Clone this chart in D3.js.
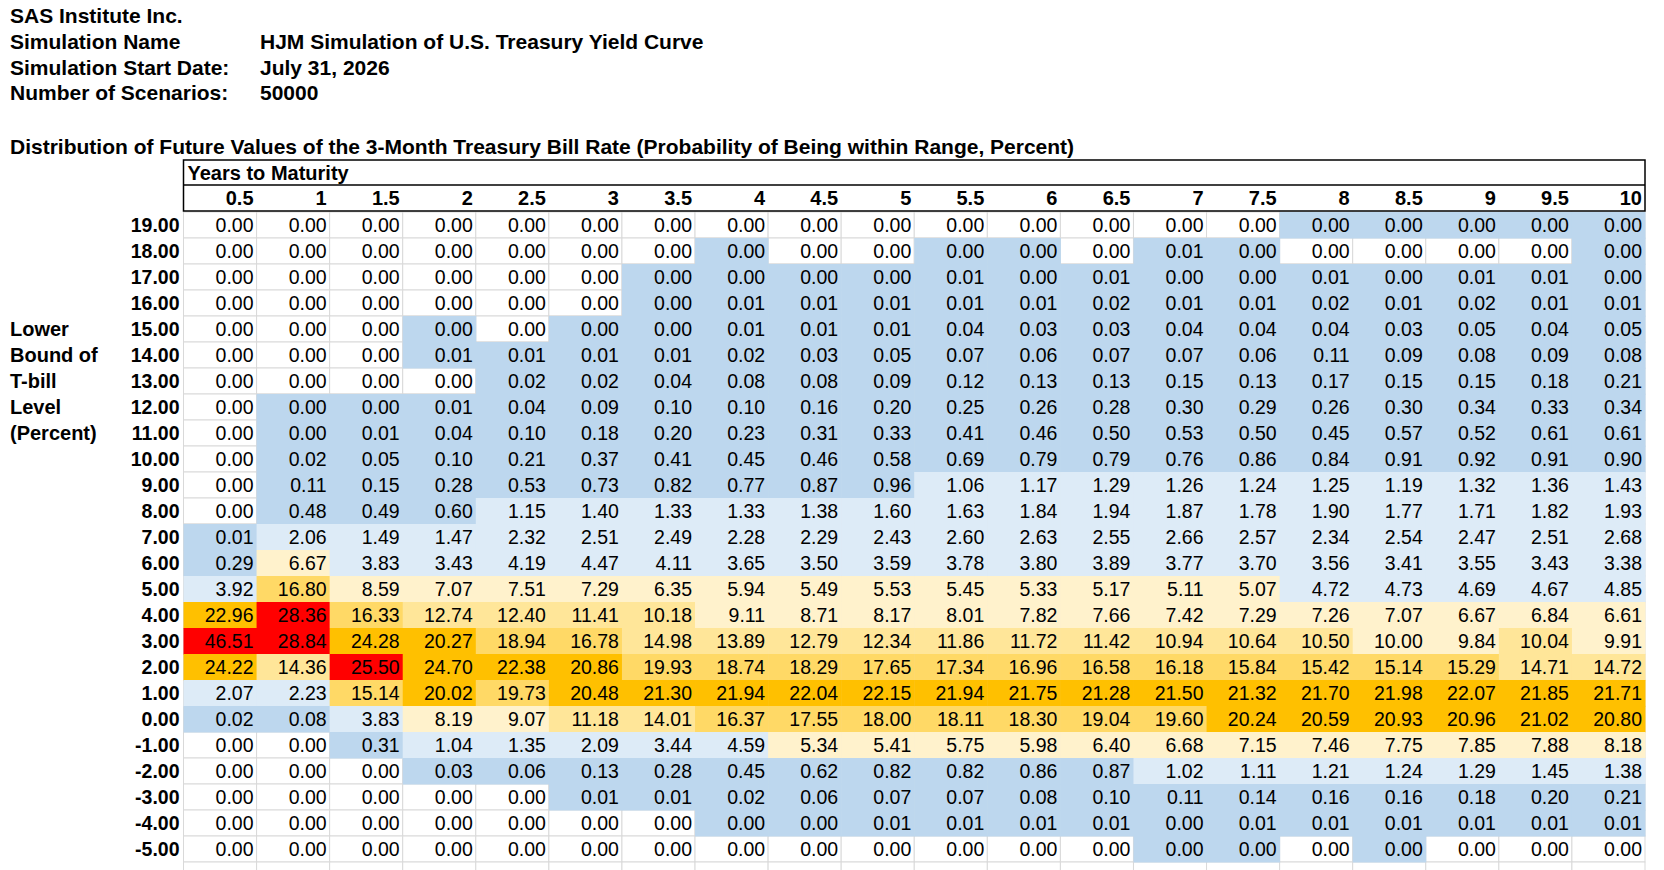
<!DOCTYPE html>
<html>
<head>
<meta charset="utf-8">
<script src="https://cdn.jsdelivr.net/npm/d3@7"></script>
<style>
  body { margin: 0; background: #fff; }
  text { font-family: "Liberation Sans", Arial, sans-serif; }
</style>
</head>
<body>
<script>
// info block
var infoLabels = ["Simulation Name", "Simulation Start Date:", "Number of Scenarios:"];
var infoValues = ["HJM Simulation of U.S. Treasury Yield Curve", "July 31, 2026", "50000"];

var maturities = ["0.5","1","1.5","2","2.5","3","3.5","4","4.5","5","5.5","6","6.5","7","7.5","8","8.5","9","9.5","10"];
var levels = ["19.00","18.00","17.00","16.00","15.00","14.00","13.00","12.00","11.00","10.00","9.00","8.00","7.00","6.00","5.00","4.00","3.00","2.00","1.00","0.00","-1.00","-2.00","-3.00","-4.00","-5.00"];
var sideLabel = ["Lower", "Bound of", "T-bill", "Level", "(Percent)"];

// probabilities (percent); 0.001 = nonzero but shows as 0.00
var probs = [
  [0,0,0,0,0,0,0,0,0,0,0,0,0,0,0,0.001,0.001,0.001,0.001,0.001],
  [0,0,0,0,0,0,0,0.001,0,0,0.001,0.001,0,0.01,0.001,0,0,0,0,0.001],
  [0,0,0,0,0,0,0.001,0.001,0.001,0.001,0.01,0.001,0.01,0.001,0.001,0.01,0.001,0.01,0.01,0.001],
  [0,0,0,0,0,0,0.001,0.01,0.01,0.01,0.01,0.01,0.02,0.01,0.01,0.02,0.01,0.02,0.01,0.01],
  [0,0,0,0.001,0,0.001,0.001,0.01,0.01,0.01,0.04,0.03,0.03,0.04,0.04,0.04,0.03,0.05,0.04,0.05],
  [0,0,0,0.01,0.01,0.01,0.01,0.02,0.03,0.05,0.07,0.06,0.07,0.07,0.06,0.11,0.09,0.08,0.09,0.08],
  [0,0,0,0,0.02,0.02,0.04,0.08,0.08,0.09,0.12,0.13,0.13,0.15,0.13,0.17,0.15,0.15,0.18,0.21],
  [0,0.001,0.001,0.01,0.04,0.09,0.10,0.10,0.16,0.20,0.25,0.26,0.28,0.30,0.29,0.26,0.30,0.34,0.33,0.34],
  [0,0.001,0.01,0.04,0.10,0.18,0.20,0.23,0.31,0.33,0.41,0.46,0.50,0.53,0.50,0.45,0.57,0.52,0.61,0.61],
  [0,0.02,0.05,0.10,0.21,0.37,0.41,0.45,0.46,0.58,0.69,0.79,0.79,0.76,0.86,0.84,0.91,0.92,0.91,0.90],
  [0,0.11,0.15,0.28,0.53,0.73,0.82,0.77,0.87,0.96,1.06,1.17,1.29,1.26,1.24,1.25,1.19,1.32,1.36,1.43],
  [0,0.48,0.49,0.60,1.15,1.40,1.33,1.33,1.38,1.60,1.63,1.84,1.94,1.87,1.78,1.90,1.77,1.71,1.82,1.93],
  [0.01,2.06,1.49,1.47,2.32,2.51,2.49,2.28,2.29,2.43,2.60,2.63,2.55,2.66,2.57,2.34,2.54,2.47,2.51,2.68],
  [0.29,6.67,3.83,3.43,4.19,4.47,4.11,3.65,3.50,3.59,3.78,3.80,3.89,3.77,3.70,3.56,3.41,3.55,3.43,3.38],
  [3.92,16.80,8.59,7.07,7.51,7.29,6.35,5.94,5.49,5.53,5.45,5.33,5.17,5.11,5.07,4.72,4.73,4.69,4.67,4.85],
  [22.96,28.36,16.33,12.74,12.40,11.41,10.18,9.11,8.71,8.17,8.01,7.82,7.66,7.42,7.29,7.26,7.07,6.67,6.84,6.61],
  [46.51,28.84,24.28,20.27,18.94,16.78,14.98,13.89,12.79,12.34,11.86,11.72,11.42,10.94,10.64,10.50,10.00,9.84,10.04,9.91],
  [24.22,14.36,25.50,24.70,22.38,20.86,19.93,18.74,18.29,17.65,17.34,16.96,16.58,16.18,15.84,15.42,15.14,15.29,14.71,14.72],
  [2.07,2.23,15.14,20.02,19.73,20.48,21.30,21.94,22.04,22.15,21.94,21.75,21.28,21.50,21.32,21.70,21.98,22.07,21.85,21.71],
  [0.02,0.08,3.83,8.19,9.07,11.18,14.01,16.37,17.55,18.00,18.11,18.30,19.04,19.60,20.24,20.59,20.93,20.96,21.02,20.80],
  [0,0,0.31,1.04,1.35,2.09,3.44,4.59,5.34,5.41,5.75,5.98,6.40,6.68,7.15,7.46,7.75,7.85,7.88,8.18],
  [0,0,0,0.03,0.06,0.13,0.28,0.45,0.62,0.82,0.82,0.86,0.87,1.02,1.11,1.21,1.24,1.29,1.45,1.38],
  [0,0,0,0,0,0.01,0.01,0.02,0.06,0.07,0.07,0.08,0.10,0.11,0.14,0.16,0.16,0.18,0.20,0.21],
  [0,0,0,0,0,0,0,0.001,0.001,0.01,0.01,0.01,0.01,0.001,0.01,0.01,0.01,0.01,0.01,0.01],
  [0,0,0,0,0,0,0,0,0,0,0,0,0,0.001,0.001,0,0.001,0,0,0]
];

var W = 1664, H = 870;
var svg = d3.select("body").append("svg").attr("width", W).attr("height", H);

var left = 183.5, right = 1645, top0 = 212, rowH = 26.0;
var x = d3.scaleBand().domain(maturities).range([left, right]);
var y = d3.scaleBand().domain(levels).range([top0, top0 + rowH * levels.length]);

function fillFor(v) {
  if (v <= 0) return null;
  if (v < 1) return "#bdd7ee";
  if (v < 5) return "#ddebf7";
  if (v <= 10) return "#fff2cc";
  if (v < 15) return "#ffe699";
  if (v < 20) return "#ffd966";
  if (v < 25) return "#ffc000";
  return "#ff0000";
}

// header text
svg.append("text").attr("x", 10).attr("y", 23).attr("font-size", 21).attr("font-weight", "bold").text("SAS Institute Inc.");
infoLabels.forEach(function(l, i) {
  var yy = 49 + i * 25.7;
  svg.append("text").attr("x", 10).attr("y", yy).attr("font-size", 21).attr("font-weight", "bold").text(l);
  svg.append("text").attr("x", 260).attr("y", yy).attr("font-size", 21).attr("font-weight", "bold").text(infoValues[i]);
});
svg.append("text").attr("x", 10).attr("y", 154).attr("font-size", 21).attr("font-weight", "bold")
  .text("Distribution of Future Values of the 3-Month Treasury Bill Rate (Probability of Being within Range, Percent)");

// grid lines (including one spare row at the bottom)
var g = svg.append("g");
for (var r = 0; r <= levels.length; r++) {
  maturities.forEach(function(m) {
    g.append("rect").attr("x", x(m)).attr("y", top0 + r * rowH)
      .attr("width", x.bandwidth()).attr("height", rowH)
      .attr("fill", "#fff").attr("stroke", "#d9d9d9").attr("stroke-width", 1);
  });
}

var cells = [];
levels.forEach(function(lv, i) {
  maturities.forEach(function(m, j) { cells.push({lv: lv, m: m, v: probs[i][j]}); });
});

svg.append("g").selectAll("rect").data(cells.filter(function(d) { return fillFor(d.v); }))
  .join("rect")
  .attr("x", function(d) { return x(d.m); })
  .attr("y", function(d) { return y(d.lv); })
  .attr("width", x.bandwidth() + 0.5)
  .attr("height", y.bandwidth() + 0.5)
  .attr("fill", function(d) { return fillFor(d.v); });

svg.append("g").selectAll("text").data(cells).join("text")
  .attr("x", function(d) { return x(d.m) + x.bandwidth() - 3; })
  .attr("y", function(d) { return y(d.lv) + y.bandwidth() / 2 + 7; })
  .attr("text-anchor", "end").attr("font-size", 19.5)
  .text(function(d) { return d3.format(".2f")(d.v); });

// row labels
svg.append("g").selectAll("text").data(levels).join("text")
  .attr("x", left - 4)
  .attr("y", function(d) { return y(d) + y.bandwidth() / 2 + 7; })
  .attr("text-anchor", "end").attr("font-size", 19.5).attr("font-weight", "bold")
  .text(function(d) { return d; });

sideLabel.forEach(function(s, i) {
  svg.append("text").attr("x", 10).attr("y", y(levels[4 + i]) + y.bandwidth() / 2 + 7)
    .attr("font-size", 20).attr("font-weight", "bold").text(s);
});

// column header box
var hTop = 160, hMid = 185, hBot = 211;
svg.append("rect").attr("x", left).attr("y", hTop).attr("width", right - left).attr("height", hBot - hTop)
  .attr("fill", "#fff").attr("stroke", "#000").attr("stroke-width", 1.5);
svg.append("line").attr("x1", left).attr("x2", right).attr("y1", hMid).attr("y2", hMid)
  .attr("stroke", "#000").attr("stroke-width", 1.5);
svg.append("text").attr("x", left + 4).attr("y", hMid - 5).attr("font-size", 20).attr("font-weight", "bold")
  .text("Years to Maturity");
svg.append("g").selectAll("text").data(maturities).join("text")
  .attr("x", function(d) { return x(d) + x.bandwidth() - 3; })
  .attr("y", hBot - 6)
  .attr("text-anchor", "end").attr("font-size", 20).attr("font-weight", "bold")
  .text(function(d) { return d; });
</script>
</body>
</html>
